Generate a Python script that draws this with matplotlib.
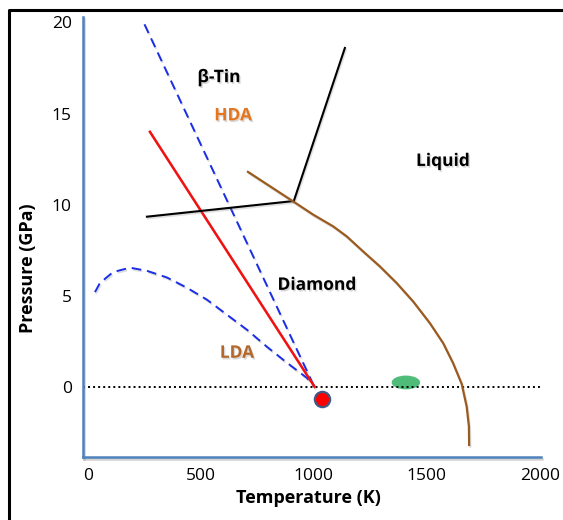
import matplotlib
matplotlib.use("Agg")
import matplotlib.pyplot as plt
import matplotlib.patheffects as pe
from matplotlib.patches import Ellipse
from matplotlib.lines import Line2D

# Phase boundaries of silicon, temperature (K) vs pressure (GPa)
lda_T = [31, 53, 111, 186, 261, 350, 438, 527, 615, 704, 792, 881, 969, 1000]
lda_P = [5.2, 5.7, 6.3, 6.54, 6.37, 6.0, 5.44, 4.78, 3.96, 3.13, 2.2, 1.32, 0.49, 0.05]

hda_T = [250, 1000]
hda_P = [19.9, 0.05]

red_T = [274, 1003]
red_P = [14.0, 0.0]

tin_T = [261, 911, 1137]
tin_P = [9.34, 10.2, 18.6]

melt_T = [708, 908, 997, 1085, 1145, 1218, 1292, 1366, 1439, 1513, 1572, 1616,
          1654, 1676, 1686, 1687]
melt_P = [11.8, 10.18, 9.45, 8.81, 8.26, 7.43, 6.61, 5.70, 4.69, 3.50, 2.40, 1.30,
          0.16, -1.08, -2.18, -3.19]

dot_T, dot_P = 1034, -0.68
green_T, green_P = 1407, 0.24

x_ticks = [0, 500, 1000, 1500, 2000]
y_ticks = [0, 5, 10, 15, 20]

labels = [
    ("β-Tin", 580, 17.0, "black"),
    ("HDA", 642, 14.9, "#E3761F"),
    ("Liquid", 1571, 12.4, "black"),
    ("Diamond", 1013, 5.6, "black"),
    ("LDA", 659, 1.87, "#B5672A"),
]

font = "Open Sans"
axis_blue = "#4F81BD"

fig = plt.figure(figsize=(5.63, 5.20), dpi=100)
ax = fig.add_axes([83 / 563, 1 - 457 / 520, 458 / 563, 440 / 520])
ax.set_xlim(-22, 2005)
ax.set_ylim(-3.85, 20.3)

shadow = [pe.SimpleLineShadow(offset=(0.8, -1.2), shadow_color="gray", alpha=0.25), pe.Normal()]

# zero-pressure reference
ax.plot([-22, 2005], [0, 0], color="black", linestyle=(0, (1, 1.6)), linewidth=1.4)

ax.plot(lda_T, lda_P, color="#1A2EE8", linestyle=(0, (5, 3)), linewidth=1.4, path_effects=shadow)
ax.plot(hda_T, hda_P, color="#1A2EE8", linestyle=(0, (5, 3)), linewidth=1.4, path_effects=shadow)
ax.plot(red_T, red_P, color="#F21010", linewidth=1.8, path_effects=shadow)
ax.plot(tin_T, tin_P, color="black", linewidth=1.5, path_effects=shadow)
ax.plot(melt_T, melt_P, color="#9B5A1E", linewidth=1.6, path_effects=shadow,
        solid_joinstyle="round")

ax.add_patch(Ellipse((green_T, green_P), width=126, height=0.76, facecolor="#3CB66B",
                     edgecolor="none", alpha=0.9))
ax.plot([dot_T], [dot_P], marker="o", markersize=11, markerfacecolor="#FF0000",
        markeredgecolor="#3F5A86", markeredgewidth=1.6, zorder=5)

for text, tx, ty, col in labels:
    ax.text(tx, ty, text, color=col, fontsize=12.5, fontweight="bold", family=font,
            ha="center", va="center",
            path_effects=[pe.withSimplePatchShadow(offset=(1, -1.2), shadow_rgbFace="gray", alpha=0.3)])

ax.set_xticks(x_ticks)
ax.set_yticks(y_ticks)
ax.tick_params(length=0, labelsize=12.5, pad=8)
for lab in ax.get_xticklabels() + ax.get_yticklabels():
    lab.set_family(font)

for side in ("top", "right"):
    ax.spines[side].set_visible(False)
for side in ("left", "bottom"):
    ax.spines[side].set_color(axis_blue)
    ax.spines[side].set_linewidth(1.8)
    ax.spines[side].set_path_effects(
        [pe.SimpleLineShadow(offset=(1, -1.5), shadow_color="gray", alpha=0.35), pe.Normal()])

ax.set_xlabel("Temperature (K)", fontsize=13, fontweight="bold", family=font)
ax.set_ylabel("Pressure (GPa)", fontsize=13, fontweight="bold", family=font)
ax.xaxis.set_label_coords(0.493, -0.072)
ax.yaxis.set_label_coords(-0.100, 0.43)

# outer frame (left and top edges)
fig.add_artist(Line2D([9 / 563, 9 / 563, 1.0], [0.0, 1 - 10 / 520, 1 - 10 / 520],
                      transform=fig.transFigure, color="black", linewidth=2.2))

fig.savefig("out.png", dpi=100)
